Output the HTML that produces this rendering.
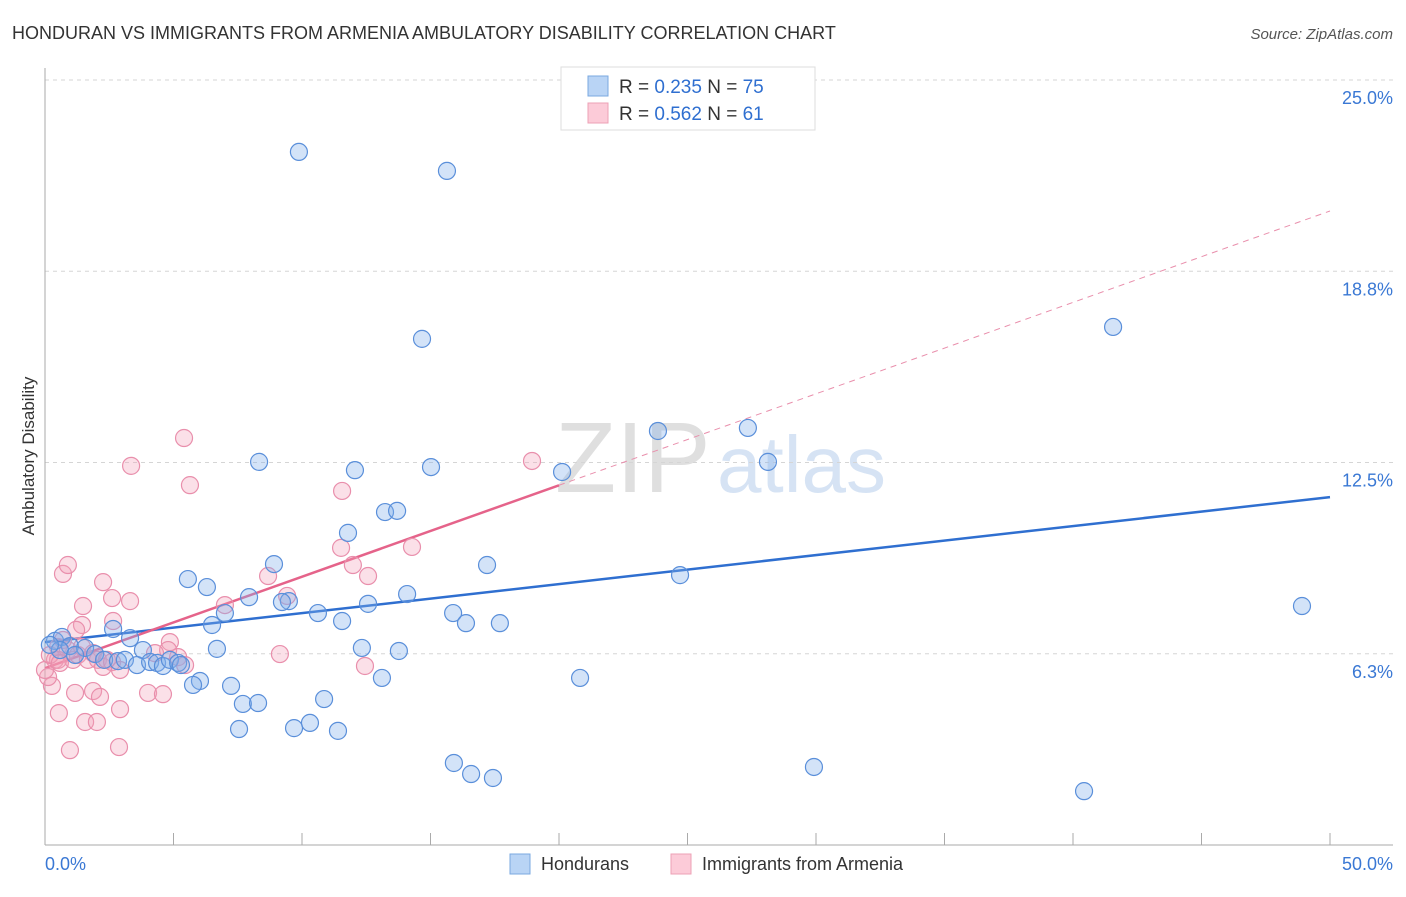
<!DOCTYPE html>
<html><head><meta charset="utf-8"><style>
body{margin:0;background:#fff;font-family:"Liberation Sans",sans-serif;}
svg text{font-family:"Liberation Sans",sans-serif;}
</style></head><body>
<svg id="chart" width="1406" height="892" xmlns="http://www.w3.org/2000/svg">
<text x="12" y="39" font-size="18" fill="#333">HONDURAN VS IMMIGRANTS FROM ARMENIA AMBULATORY DISABILITY CORRELATION CHART</text>
<text x="1393" y="39" font-size="15" fill="#555" font-style="italic" text-anchor="end">Source: ZipAtlas.com</text>
<g>
<text x="555" y="492" font-size="100" fill="#d8d8d8" font-family="Liberation Serif" opacity="0.8">ZIP</text>
<text x="717" y="492" font-size="80" fill="#c5d8f0" opacity="0.7">atlas</text>
</g>
<g id="grid"></g>
<g id="axes"></g>
<g id="trends"></g>
<g id="points"></g>
<text transform="translate(34,456) rotate(-90)" font-size="17" fill="#333" text-anchor="middle">Ambulatory Disability</text>
<g>
<rect x="561" y="67" width="254" height="63" fill="#fff" stroke="#ddd"/>
<rect x="588" y="76" width="20" height="20" fill="#b9d4f5" stroke="#7aa8e0"/>
<rect x="588" y="103" width="20" height="20" fill="#fccbd8" stroke="#eda0b6"/>
<text x="619" y="93" font-size="19" fill="#333">R = <tspan fill="#2f6fd0">0.235</tspan>   N = <tspan fill="#2f6fd0">75</tspan></text>
<text x="619" y="120" font-size="19" fill="#333">R = <tspan fill="#2f6fd0">0.562</tspan>   N =  <tspan fill="#2f6fd0">61</tspan></text>
</g>
<g>
<rect x="510" y="854" width="20" height="20" fill="#b9d4f5" stroke="#7aa8e0"/>
<text x="541" y="870" font-size="18" fill="#333">Hondurans</text>
<rect x="671" y="854" width="20" height="20" fill="#fccbd8" stroke="#eda0b6"/>
<text x="702" y="870" font-size="18" fill="#333">Immigrants from Armenia</text>
</g>
</svg>
<script>
const yTicks=[6.25,12.5,18.75,25];
const yTickLabels=["6.3%","12.5%","18.8%","25.0%"];
const xTickVals=[0,5,10,15,20,25,30,35,40,45,50];
const xLabels=["0.0%","50.0%"];
const blueX=[9.88,15.64,14.67,41.56,23.85,27.35,28.13,20.12,8.33,12.06,15.02,13.23,13.70,11.79,17.20,8.91,5.56,6.30,24.71,48.91,7.94,9.49,9.22,7.00,12.57,14.09,10.62,15.88,16.38,17.70,11.56,6.50,2.65,3.31,6.69,12.33,13.77,3.81,13.11,20.82,6.03,5.76,7.24,10.86,7.70,8.29,7.55,9.69,10.31,11.40,15.91,16.58,17.43,29.92,40.43,0.39,0.66,0.97,1.56,1.95,2.30,2.84,3.11,3.58,4.09,4.36,4.59,4.86,5.18,5.29,0.58,1.17,0.19];
const blueY=[22.65,22.03,16.54,16.93,13.53,13.63,12.52,12.19,12.52,12.25,12.35,10.88,10.92,10.20,9.15,9.18,8.69,8.43,8.82,7.81,8.10,7.97,7.94,7.58,7.88,8.20,7.58,7.58,7.25,7.25,7.32,7.19,7.06,6.76,6.41,6.44,6.34,6.37,5.46,5.46,5.36,5.23,5.20,4.77,4.61,4.64,3.79,3.82,3.99,3.73,2.68,2.32,2.19,2.55,1.76,6.67,6.80,6.50,6.44,6.24,6.05,6.01,6.05,5.88,5.98,5.95,5.85,6.05,5.95,5.88,6.37,6.21,6.54];
const pinkX=[0.27,0.12,0.39,0.51,0.70,0.89,1.09,1.28,1.44,1.67,1.87,2.06,2.26,2.41,2.61,0.70,0.89,1.48,1.44,1.21,2.26,2.61,3.31,2.65,3.35,5.41,5.64,7.00,8.68,9.42,11.56,11.52,11.98,12.57,14.28,18.95,9.14,12.45,4.86,4.79,5.18,5.45,4.28,4.01,4.59,1.87,2.14,2.92,0.54,1.56,2.02,2.88,0.97,1.17,0.51,0,2.92,0.19,0.58];
const pinkY=[5.20,5.49,6.05,6.47,6.70,6.37,6.05,6.21,6.47,6.05,6.27,6.05,5.82,6.05,5.98,8.86,9.15,7.81,7.19,7.03,8.59,8.07,7.97,7.32,12.39,13.30,11.76,7.84,8.79,8.14,11.57,9.71,9.15,8.79,9.74,12.55,6.24,5.85,6.63,6.37,6.14,5.88,6.27,4.97,4.93,5.03,4.84,4.44,4.31,4.02,4.02,3.20,3.10,4.97,6.05,5.72,5.72,6.21,5.95];
const blueTrend=[6.63,11.37];
const pinkTrend=[5.78,20.72];
const pinkSolidEnd=20.0;

const NS="http://www.w3.org/2000/svg";
const X0=45,X1=1330,Y0=845,Y1=80;
const sx=v=>X0+(v/50)*(X1-X0);
const sy=v=>Y0-(v/25)*(Y0-Y1);
function mk(tag,attrs,parent){const e=document.createElementNS(NS,tag);for(const k in attrs)e.setAttribute(k,attrs[k]);document.getElementById(parent).appendChild(e);return e;}

yTicks.forEach((t,i)=>{
  const l=mk('line',{x1:X0,x2:1393,y1:sy(t),y2:sy(t),stroke:'#d5d5d5','stroke-dasharray':'4,4'},'grid');
  
  
  const tx=mk('text',{x:1393,y:sy(t)+24,'font-size':18,fill:'#3a78d4','text-anchor':'end'},'grid');
  tx.textContent=yTickLabels[i];
  
  
});
const ya=mk('line',{x1:X0,x2:X0,y1:68,y2:Y0,stroke:'#aaa'},'axes');


const xa=mk('line',{x1:X0,x2:1393,y1:Y0,y2:Y0,stroke:'#aaa'},'axes');


xTickVals.forEach(v=>{
  const t=mk('line',{x1:sx(v),x2:sx(v),y1:Y0,y2:Y0-12,stroke:'#aaa'},'axes');
  
  
});
[[0,'start',X0],[50,'end',1393]].forEach((p,i)=>{
  const t=mk('text',{x:p[2],y:870,'font-size':18,fill:'#3a78d4','text-anchor':p[1]},'axes');
  t.textContent=xLabels[i];
  
  
});

function dot(x,y,fill,stroke,name){
  const c=mk('circle',{cx:sx(x),cy:sy(y),r:8.5,fill:fill,stroke:stroke,'stroke-width':1.2},'points');
  
  
}
pinkX.forEach((x,i)=>dot(x,pinkY[i],'rgba(244,160,185,0.33)','#e98fac','armenia-point'));
blueX.forEach((x,i)=>dot(x,blueY[i],'rgba(130,175,235,0.35)','#5a8fda','honduran-point'));

const bt=mk('line',{x1:sx(0),y1:sy(blueTrend[0]),x2:sx(50),y2:sy(blueTrend[1]),stroke:'#2f6fd0','stroke-width':2.5},'trends');


const pAt=x=>pinkTrend[0]+(pinkTrend[1]-pinkTrend[0])*x/50;
const ps=mk('line',{x1:sx(0),y1:sy(pAt(0)),x2:sx(pinkSolidEnd),y2:sy(pAt(pinkSolidEnd)),stroke:'#e5638a','stroke-width':2.5},'trends');


const pd=mk('line',{x1:sx(pinkSolidEnd),y1:sy(pAt(pinkSolidEnd)),x2:sx(50),y2:sy(pAt(50)),stroke:'#e98fac','stroke-width':1,'stroke-dasharray':'6,5'},'trends');


</script>
</body></html>
